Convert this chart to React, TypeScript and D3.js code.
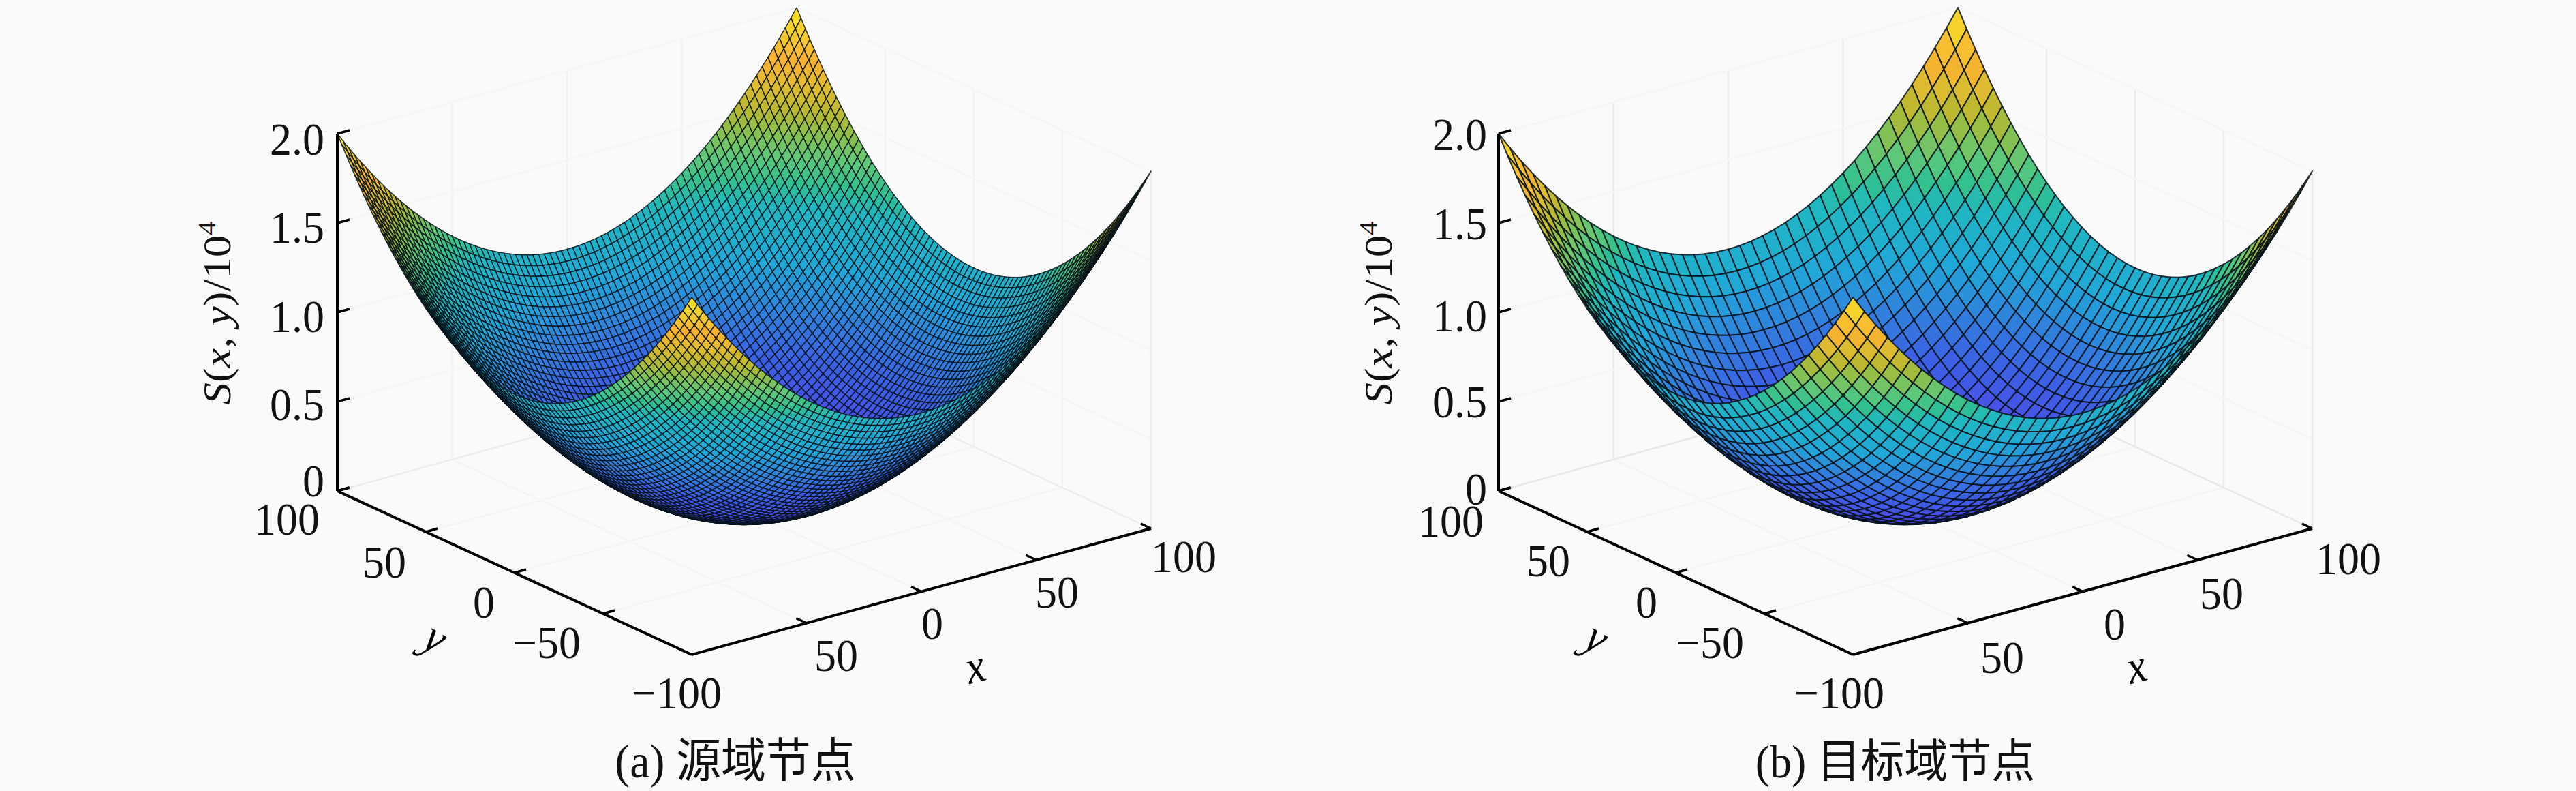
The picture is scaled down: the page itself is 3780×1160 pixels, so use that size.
import React, { useEffect, useRef } from 'react';
import * as d3 from 'd3';

// S contribution (in 10^4) of one coordinate, from the axis edge in to the centre node
const halfProfileA = [
  1.0, 0.9506, 0.9025, 0.8556, 0.81, 0.7656, 0.7225, 0.6806, 0.64, 0.6006, 0.5625, 0.5256, 0.49, 0.4556,
  0.4225, 0.3906, 0.36, 0.3306, 0.3025, 0.2756, 0.25, 0.2256, 0.2025, 0.1806, 0.16, 0.1406, 0.1225, 0.1056,
  0.09, 0.0756, 0.0625, 0.0506, 0.04, 0.0306, 0.0225, 0.0156, 0.01, 0.0056, 0.0025, 0.0006, 0,
];
const halfProfileB = [
  1.0, 0.9025, 0.81, 0.7225, 0.64, 0.5625, 0.49, 0.4225, 0.36, 0.3025, 0.25, 0.2025, 0.16, 0.1225, 0.09,
  0.0625, 0.04, 0.0225, 0.01, 0.0025, 0,
];

const zTicks = [0, 0.5, 1, 1.5, 2];
const zTickLabels = ['0', '0.5', '1.0', '1.5', '2.0'];
const xTicks = [-50, 0, 50, 100];
const yTicks = [100, 50, 0, -50];
const xLabels = ['50', '0', '50', '100'];
const yLabels = ['100', '50', '0', '\u221250', '\u2212100'];
const gridTicks = [-50, 0, 50];

// colours
const colorStops = [0, 0.06, 0.15, 0.3, 0.45, 0.65, 0.85, 1.1, 1.2, 1.32, 1.42, 1.52, 1.65, 1.75, 1.85, 2];
const colorValues = [
  '#2c1a8c', '#3c28b8', '#4540e0', '#4852e6', '#3c60e4', '#3082dc', '#20a8d8', '#20b8c0',
  '#30c090', '#60c878', '#88c050', '#b8b830', '#e4bc30', '#fcb030', '#f4c830', '#f8e820',
];

const serif = '"Liberation Serif", "Noto Sans CJK SC", serif';
const BG = '#fafafa';

const App: React.FC = () => {
  const ref = useRef<SVGSVGElement | null>(null);

  useEffect(() => {
    const svg = d3.select(ref.current);
    svg.selectAll('*').remove();
    svg.append('rect').attr('width', 3780).attr('height', 1160).attr('fill', BG);

    const color = d3.scaleLinear<string>().domain(colorStops).range(colorValues);

    const label = (g: any, txt: string, x: number, y: number, anchor = 'middle') =>
      g.append('text')
        .attr('transform', `translate(${x},${y + 22}) scale(1,1.05)`)
        .attr('text-anchor', anchor)
        .attr('font-family', serif)
        .attr('font-size', 64)
        .attr('fill', '#111')
        .text(txt);

    function panel(ox: number, half: number[], lineW: number, lineOp: number, gridCol: string, edgeCol: string, o: any) {
      const g = svg.append('g').attr('transform', `translate(${ox},0)`);
      const profile = [...half, ...half.slice(0, -1).reverse()];
      const n = profile.length - 1;
      const idx = d3.scaleLinear().domain([0, n]).range([-100, 100]);

      // oblique projection: front corner + x, y and z contributions
      const xToPx = d3.scaleLinear().domain([-100, 100]).range([0, 674]);
      const xToPy = d3.scaleLinear().domain([-100, 100]).range([0, -185]);
      const yToPx = d3.scaleLinear().domain([-100, 100]).range([0, -520]);
      const yToPy = d3.scaleLinear().domain([-100, 100]).range([0, -240]);
      const zToPy = d3.scaleLinear().domain([0, 2]).range([0, -524]);
      const P = (x: number, y: number, z: number): [number, number] => [
        1015 + xToPx(x) + yToPx(y),
        960 + xToPy(x) + yToPy(y) + zToPy(z),
      ];
      const seg = (a: [number, number], b: [number, number], stroke: string, w: number) =>
        g.append('line')
          .attr('x1', a[0]).attr('y1', a[1]).attr('x2', b[0]).attr('y2', b[1])
          .attr('stroke', stroke).attr('stroke-width', w);

      // very faint walls and floor grid
      gridTicks.forEach(t => {
        seg(P(t, -100, 0), P(t, 100, 0), '#f5f5f5', 2.5);
        seg(P(-100, t, 0), P(100, t, 0), '#f5f5f5', 2.5);
        seg(P(t, 100, 0), P(t, 100, 2), gridCol, 2.5);
        seg(P(100, t, 0), P(100, t, 2), gridCol, 2.5);
      });
      zTicks.slice(1).forEach(t => {
        seg(P(-100, 100, t), P(100, 100, t), '#f6f6f6', 2.5);
        seg(P(100, 100, t), P(100, -100, t), '#f6f6f6', 2.5);
      });
      seg(P(-100, 100, 0), P(100, 100, 0), edgeCol, 2.5);
      seg(P(100, 100, 0), P(100, -100, 0), edgeCol, 2.5);
      seg(P(100, -100, 0), P(100, -100, 2), edgeCol, 2.5);

      // surface, far cells first
      const line = d3.line().curve(d3.curveLinearClosed);
      const surf = g.append('g');
      for (let i = n - 1; i >= 0; i--) {
        for (let j = n - 1; j >= 0; j--) {
          const zs = [profile[i] + profile[j], profile[i + 1] + profile[j], profile[i + 1] + profile[j + 1], profile[i] + profile[j + 1]];
          const pts = [
            P(idx(i), idx(j), zs[0]),
            P(idx(i + 1), idx(j), zs[1]),
            P(idx(i + 1), idx(j + 1), zs[2]),
            P(idx(i), idx(j + 1), zs[3]),
          ];
          surf.append('path')
            .attr('d', line(pts))
            .attr('fill', color(d3.mean(zs) as number))
            .attr('stroke', '#06121a')
            .attr('stroke-opacity', lineOp)
            .attr('stroke-width', lineW)
            .attr('stroke-linejoin', 'round');
        }
      }

      // axes and ticks
      seg(P(-100, 100, 0), P(-100, 100, 2), '#000', 4);
      seg(P(-100, 100, 0), P(-100, -100, 0), '#000', 4);
      seg(P(-100, -100, 0), P(100, -100, 0), '#000', 4);
      zTicks.forEach(t => {
        const a = P(-100, 100, t);
        seg(a, [a[0] + 18, a[1] - 5], '#000', 3.5);
      });
      yTicks.forEach(t => {
        const a = P(-100, t, 0);
        seg(a, [a[0] + 17, a[1] - 5], '#000', 3.5);
      });
      xTicks.forEach(t => {
        const a = P(t, -100, 0);
        seg(a, [a[0] - 15, a[1] - 7], '#000', 3.5);
      });

      // tick labels
      zTickLabels.forEach((t, i) => label(g, t, 476 + o.zdx, o.zy[i], 'end'));
      yLabels.forEach((t, i) => label(g, t, o.yl[i][0], o.yl[i][1]));
      xLabels.forEach((t, i) => label(g, t, o.xl[i][0], o.xl[i][1]));

      // axis names
      g.append('text')
        .attr('transform', `translate(1436,1000) rotate(-14) scale(1,1.12)`)
        .attr('text-anchor', 'middle').attr('font-family', serif).attr('font-style', 'italic')
        .attr('font-size', 62).text('x');
      g.append('text')
        .attr('transform', `translate(628,955) rotate(30) scale(1,1.12)`)
        .attr('text-anchor', 'middle').attr('font-family', serif).attr('font-style', 'italic')
        .attr('font-size', 62).text('y');

      const zt = g.append('text')
        .attr('transform', `translate(338,459) rotate(-90) scale(1.12,1)`)
        .attr('text-anchor', 'middle').attr('font-family', serif)
        .attr('font-size', 58).attr('fill', '#111');
      zt.append('tspan').attr('font-style', 'italic').text('S');
      zt.append('tspan').text('(');
      zt.append('tspan').attr('font-style', 'italic').text('x');
      zt.append('tspan').text(', ');
      zt.append('tspan').attr('font-style', 'italic').text('y');
      zt.append('tspan').text(')/10');
      zt.append('tspan').attr('font-size', 36).attr('dy', -22).text('4');

      // caption
      g.append('text')
        .attr('transform', `translate(${o.capX},1140) scale(1,1.05)`)
        .attr('text-anchor', 'middle').attr('font-family', serif)
        .attr('font-size', o.capSize).attr('fill', '#111').text(o.cap);
    }

    panel(0, halfProfileA, 1.5, 0.85, '#f2f2f2', '#ededed', {
      zdx: 0,
      zy: [706, 594, 465, 334, 205],
      yl: [[421, 762], [564, 825], [710, 884], [802, 943], [993, 1017]],
      xl: [[1227, 962], [1368, 915], [1551, 869], [1737, 817]],
      capX: 1079,
      capSize: 66,
      cap: '(a) 源域节点',
    });
    panel(1704, halfProfileB, 2, 0.85, '#ebebeb', '#e8e8e8', {
      zdx: 2,
      zy: [718, 590, 464, 329, 198],
      yl: [[425, 765], [568, 823], [712, 884], [805, 943], [995, 1017]],
      xl: [[1234, 965], [1399, 916], [1556, 871], [1742, 820]],
      capX: 1077,
      capSize: 64,
      cap: '(b) 目标域节点',
    });
  }, []);

  return <svg ref={ref} width={3780} height={1160} style={{ position: 'absolute', left: 0, top: 0 }} />;
};

export default App;
